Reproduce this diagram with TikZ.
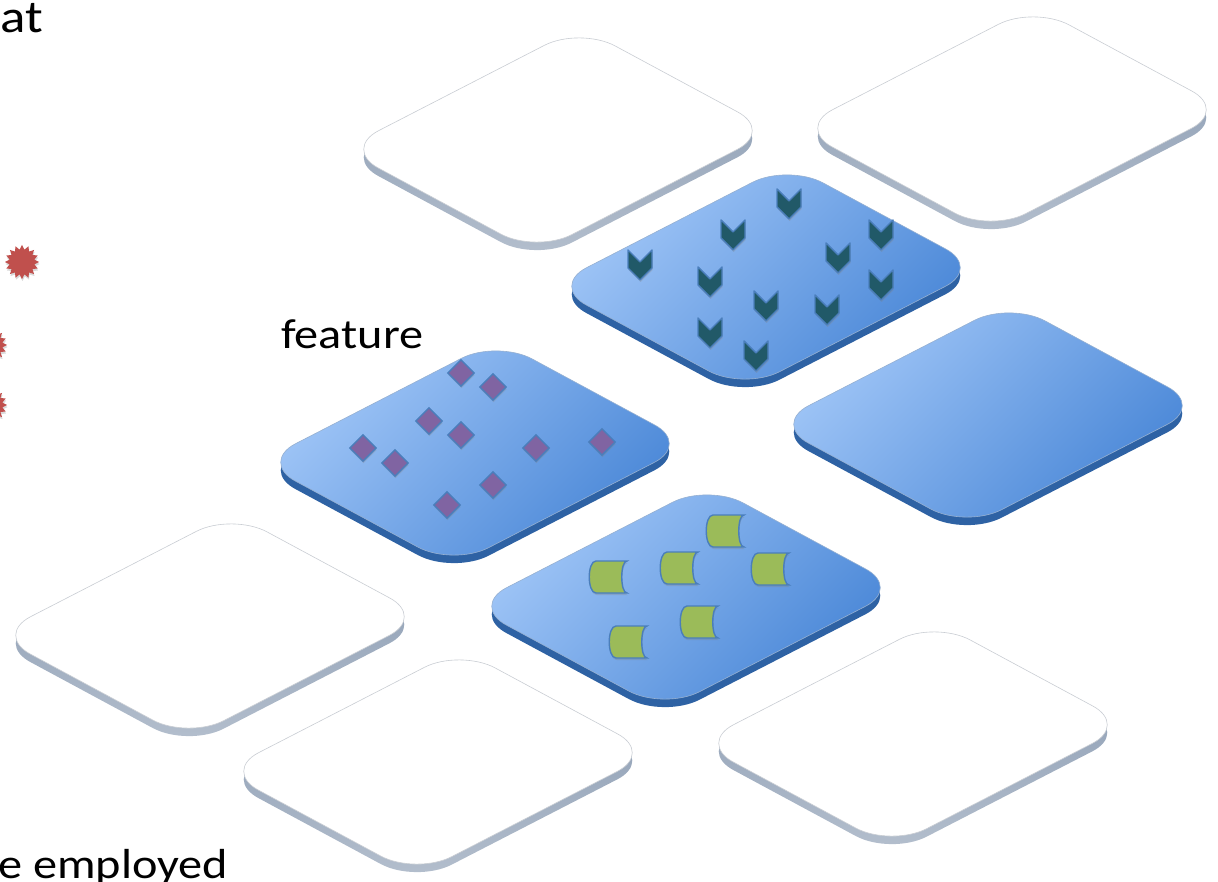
\documentclass[tikz,border=0pt]{standalone}
\usepackage{fontspec}
\setmainfont[FakeStretch=1.15]{Carlito}
\usetikzlibrary{shapes.geometric, shadows}

\definecolor{faceblue}{HTML}{A3C8F8}
\definecolor{deepblue}{HTML}{4785D6}
\definecolor{soleblue}{HTML}{2E62A4}
\definecolor{solegray}{HTML}{8395AD}
\definecolor{rimgray}{HTML}{C9CDD3}
\definecolor{chevteal}{HTML}{215968}
\definecolor{markedge}{HTML}{4A7EBB}
\definecolor{gempurple}{HTML}{8064A2}
\definecolor{leafgreen}{HTML}{9BBB59}
\definecolor{burstred}{HTML}{C0504D}

\begin{document}
\begin{tikzpicture}[
    x=1pt, y=-1pt,
    blanktop/.style={fill=white, draw=rimgray, line width=0.6pt, rounded corners=40pt},
    blanksole/.style={top color=solegray, bottom color=solegray!60, rounded corners=40pt},
    bluetop/.style={top color=faceblue, bottom color=deepblue, shading angle=45, draw=soleblue!50, line width=0.6pt, rounded corners=40pt},
    bluesole/.style={fill=soleblue, rounded corners=40pt},
    blanktile/.pic={
        \path[blanksole] (-215,13) -- (22,-109) -- (215,-5) -- (-22,117) -- cycle;
        \path[blanktop] (-215,5) -- (22,-117) -- (215,-13) -- (-22,109) -- cycle;
    },
    bluetile/.pic={
        \path[bluesole] (-215,13) -- (22,-109) -- (215,-5) -- (-22,117) -- cycle;
        \path[bluetop] (-215,5) -- (22,-117) -- (215,-13) -- (-22,109) -- cycle;
    },
    soft/.style={drop shadow={shadow xshift=0.5pt, shadow yshift=-2pt, opacity=0.3}},
    chevron/.style={fill=chevteal, draw=markedge, line width=1.4pt, line join=round, soft},
    chevmark/.pic={
        \path[chevron] (-12,-15) -- (0,-3) -- (12,-15) -- (12,3) -- (0,15) -- (-12,3) -- cycle;
    },
    gem/.style={diamond, minimum size=27pt, inner sep=0pt,
        fill=gempurple, draw=markedge, line width=1.4pt, soft},
    leaf/.style={fill=leafgreen, draw=markedge, line width=1.4pt, soft},
    datatab/.pic={
        \path[leaf] (-12,-16) .. controls (-21,-16) and (-21,16) .. (-12,16) -- (19,16)
            .. controls (12,16) and (12,-16) .. (19,-16) -- cycle;
    },
    burst/.style={star, star points=16, star point ratio=1.35, minimum size=34pt,
        inner sep=0pt, fill=burstred, soft},
    word/.style={font=\fontsize{42}{50}\selectfont, inner sep=0pt, anchor=base west}
]

    \useasboundingbox (0,0) rectangle (1218,882);
    \clip (0,0) rectangle (1218,882);

    % --- Back Row ---
    \pic (tileA) at (558,144) {blanktile};
    \pic (tileB) at (1012,123) {blanktile};

    % --- Middle Rows ---
    \pic (tileC) at (766,281) {bluetile};
    \pic (tileD) at (988,419) {bluetile};
    \pic (tileE) at (475,457) {bluetile};
    \pic (tileF) at (686,601) {bluetile};

    % --- Front Row ---
    \pic (tileG) at (210,630) {blanktile};
    \pic (tileI) at (913,738) {blanktile};
    \pic (tileH) at (438,766) {blanktile};

    % --- Chevrons on tile C ---
    \pic (chev1) at (789,204) {chevmark};
    \pic (chev2) at (733,235) {chevmark};
    \pic (chev3) at (881,235) {chevmark};
    \pic (chev4) at (640,265) {chevmark};
    \pic (chev5) at (838,258) {chevmark};
    \pic (chev6) at (710,282) {chevmark};
    \pic (chev7) at (881,285) {chevmark};
    \pic (chev8) at (766,306) {chevmark};
    \pic (chev9) at (827,310) {chevmark};
    \pic (chev10) at (710,333) {chevmark};
    \pic (chev11) at (756,356) {chevmark};

    % --- Diamonds on tile E ---
    \node[gem] (gem1) at (461,373) {};
    \node[gem] (gem2) at (493,387) {};
    \node[gem] (gem3) at (429,421) {};
    \node[gem] (gem4) at (461,435) {};
    \node[gem] (gem5) at (363,448) {};
    \node[gem] (gem6) at (395,463) {};
    \node[gem] (gem7) at (536,448) {};
    \node[gem] (gem8) at (602,442) {};
    \node[gem] (gem9) at (493,485) {};
    \node[gem] (gem10) at (447,505) {};

    % --- Data tabs on tile F ---
    \pic (tab1) at (725,531) {datatab};
    \pic (tab2) at (679,568) {datatab};
    \pic (tab3) at (608,577) {datatab};
    \pic (tab4) at (770,569) {datatab};
    \pic (tab5) at (699,622) {datatab};
    \pic (tab6) at (628,642) {datatab};

    % --- Bursts at the left edge ---
    \node[burst] (burst1) at (22,262) {};
    \node[burst] (burst2) at (-10,345) {};
    \node[burst] (burst3) at (-10,405) {};

    % --- Words ---
    \node[word, font=\fontsize{46}{52}\selectfont] (wordat) at (0,33) {at};
    \node[word] (wordfeature) at (281,349) {feature};
    \node[word] (wordemployed) at (-2,878) {e employed};

\end{tikzpicture}
\end{document}
